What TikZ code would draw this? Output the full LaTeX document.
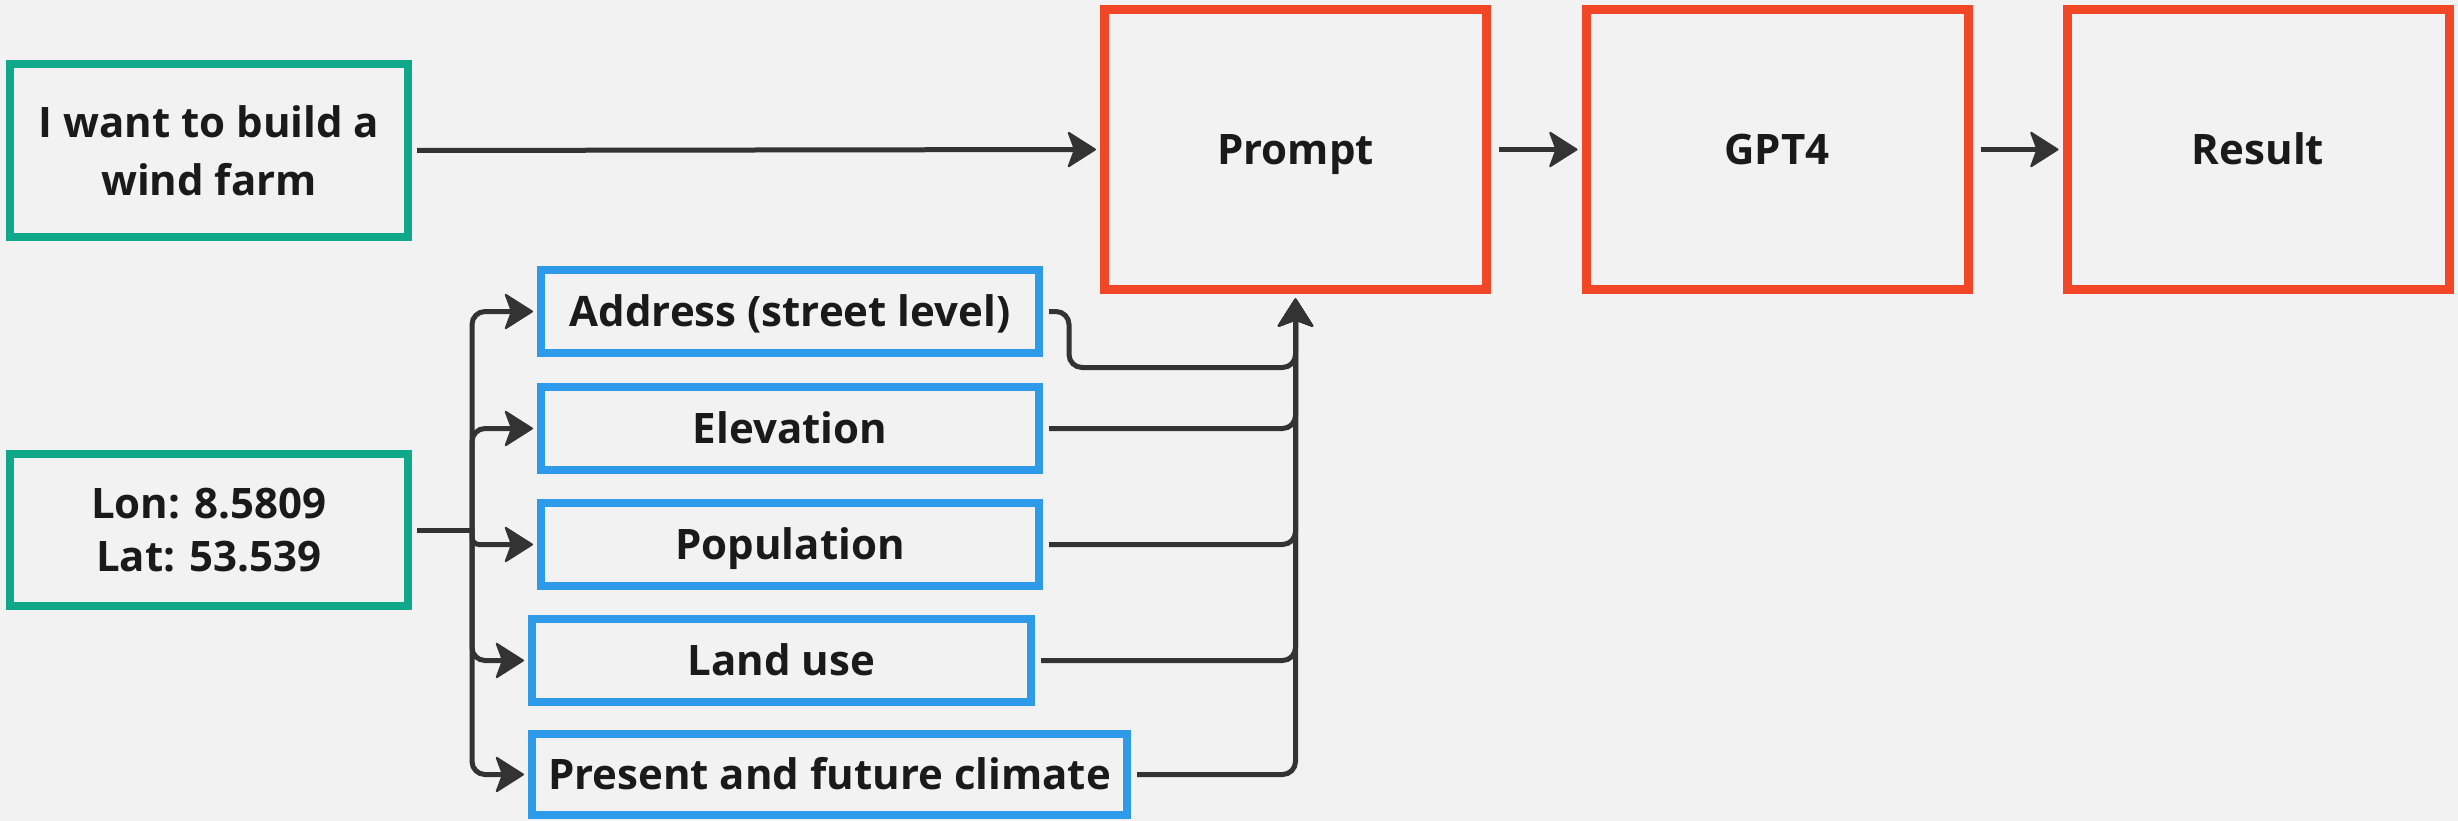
\documentclass[tikz,border=0pt]{standalone}
\usepackage{fontspec}
\setmainfont{Open Sans}
\usetikzlibrary{arrows.meta,positioning,calc}
\definecolor{bg}{HTML}{F2F2F2}
\definecolor{cgreen}{HTML}{0FA88A}
\definecolor{cblue}{HTML}{2D9BEA}
\definecolor{cred}{HTML}{F24726}
\definecolor{cline}{HTML}{333333}
\definecolor{ctext}{HTML}{1A1A1A}
\tikzset{
  box/.style={draw, line width=8pt, fill=bg, text=ctext, align=center,
    inner sep=0pt, font=\fontsize{42}{58}\selectfont\bfseries},
  oneline/.style={text height=30pt, text depth=0pt},
  greenbox/.style={box, draw=cgreen, minimum width=398pt},
  bluebox/.style={box, oneline, draw=cblue, minimum height=83pt},
  redbox/.style={box, oneline, draw=cred, line width=9pt, minimum width=382pt, minimum height=279pt},
  conn/.style={draw=cline, line width=5pt, rounded corners=13pt,
    -{Stealth[length=30pt,width=38pt,inset=7pt,line width=2pt,round]}},
  plainconn/.style={draw=cline, line width=5pt, rounded corners=13pt}
}
\begin{document}
\begin{tikzpicture}[x=1pt,y=-1pt]
\fill[bg] (0,0) rectangle (2458,821);
\useasboundingbox (0,0) rectangle (2458,821);

\node[greenbox, minimum height=173pt] (wind) at (209,150.5) {I want to build a\\wind farm};
\node[greenbox, minimum height=152pt, font=\fontsize{42}{53}\selectfont\bfseries] (lon) at (209,530) {Lon: 8.5809\\Lat: 53.539};

\node[redbox] (prompt) at (1295.5,149.5) {Prompt};
\node[redbox] (gpt) at (1777,149.5) {GPT4};
\node[redbox] (result) at (2258,149.5) {Result};

\node[bluebox, minimum width=498pt] (addr) at (790,311.5) {Address (street level)};
\node[bluebox, minimum width=498pt] (elev) at (790,428.5) {Elevation};
\node[bluebox, minimum width=498pt] (pop) at (790,544.5) {Population};
\node[bluebox, minimum width=499pt] (land) at (781.5,660.5) {Land use};
\node[bluebox, minimum width=595pt, minimum height=81pt] (clim) at (829.5,774.5) {Present and future climate};

\coordinate (bus) at (472,530);
\coordinate (pin) at ($(prompt.south)+(0,5)$);

% top row
\draw[conn] ($(wind.east)+(5,0)$) -- ($(prompt.west)+(-4,0)$);
\draw[conn] ($(prompt.east)+(8,0)$) -- ($(gpt.west)+(-4,0)$);
\draw[conn] ($(gpt.east)+(8,0)$) -- ($(result.west)+(-4,0)$);

% left fan-out
\draw[plainconn] ($(lon.east)+(5,0)$) -- (bus);
\draw[conn] (bus) |- ($(addr.west)+(-4,0)$);
\draw[conn] (bus) |- ($(elev.west)+(-4,0)$);
\draw[conn, rounded corners=7pt] (bus) |- ($(pop.west)+(-4,0)$);
\draw[conn] (bus) |- ($(land.west)+(-4,0)$);
\draw[conn] (bus) |- ($(clim.west)+(-4,0)$);

% right fan-in
\draw[conn] ($(addr.east)+(6,0)$) -- ($(addr.east)+(26,0)$) -- ($(addr.east)+(26,56)$) -| (pin);
\draw[conn] ($(elev.east)+(6,0)$) -| (pin);
\draw[conn] ($(pop.east)+(6,0)$) -| (pin);
\draw[conn] ($(land.east)+(6,0)$) -| (pin);
\draw[conn] ($(clim.east)+(6,0)$) -| (pin);
\end{tikzpicture}
\end{document}
